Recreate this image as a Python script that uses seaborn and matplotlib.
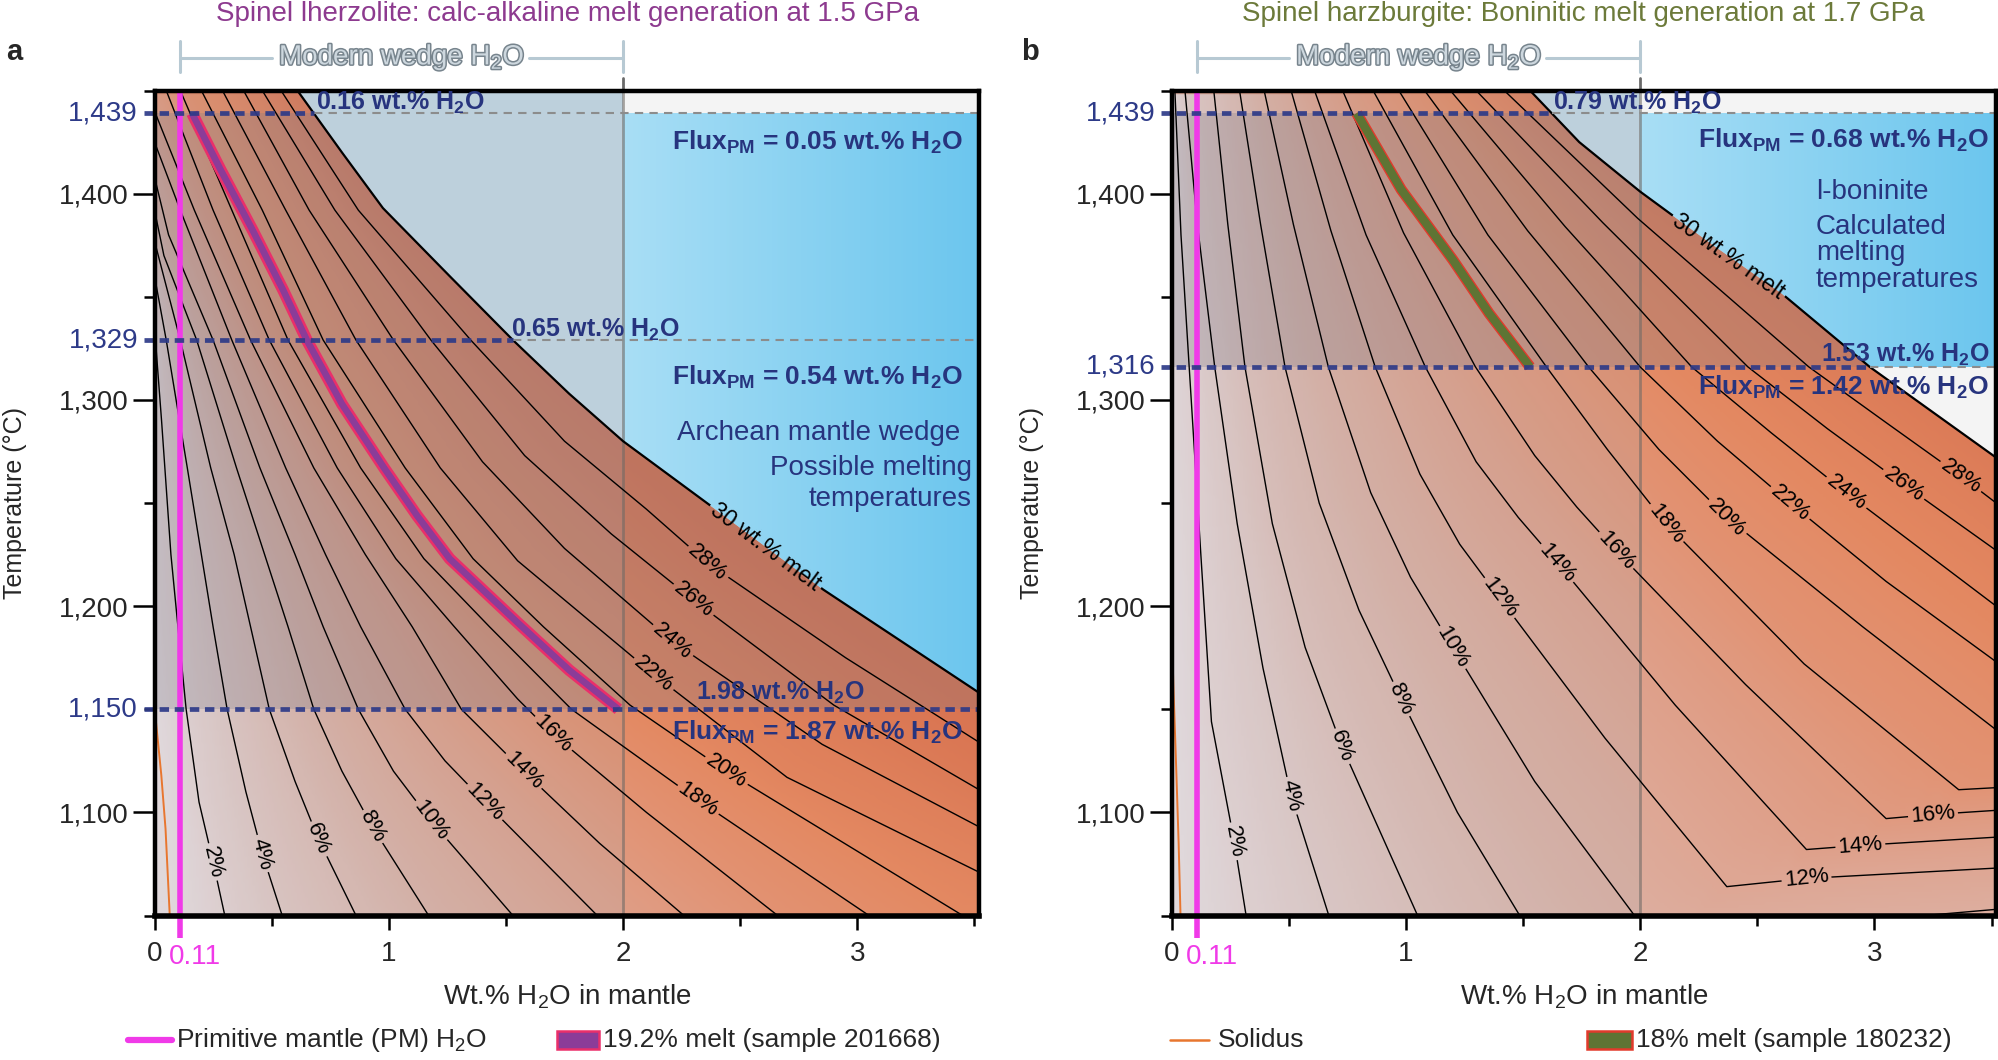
import numpy as np
import pandas as pd
import matplotlib
matplotlib.use("Agg")
import matplotlib.pyplot as plt
import seaborn as sns
import matplotlib.patheffects as pe
import matplotlib.tri as mtri
from matplotlib.colors import to_rgb, LinearSegmentedColormap
from matplotlib.lines import Line2D
from matplotlib.patches import Rectangle
from matplotlib.path import Path
from matplotlib.textpath import TextPath
from matplotlib.font_manager import FontProperties
from matplotlib.transforms import IdentityTransform

# ---------------- values ----------------
LEVELS = [2, 4, 6, 8, 10, 12, 14, 16, 18, 20, 22, 24, 26, 28]
X_MAJOR = [0, 1, 2, 3]
X_MINOR = [0.5, 1.5, 2.5, 3.5]
T_MAJOR = [1100, 1200, 1300, 1400]
T_MAJOR_LABELS = ["1,100", "1,200", "1,300", "1,400"]
T_MINOR = [1050, 1150, 1250, 1350, 1450]
XLIM = (0.0, 3.52)
TLIM = (1050, 1450)
PM_H2O = 0.11
WEDGE_MAX = 2.0

# ---- panel a: spinel lherzolite, 1.5 GPa ----
A_X = [
    [0.00, 0.03, 0.07, 0.10, 0.135, 0.19, 0.25, 0.30],
    [0.00, 0.05, 0.14, 0.20, 0.25, 0.31, 0.39, 0.46, 0.545],
    [0.00, 0.11, 0.24, 0.34, 0.41, 0.49, 0.60, 0.70, 0.86],
    [0.00, 0.04, 0.18, 0.35, 0.47, 0.57, 0.68, 0.80, 0.93, 1.17],
    [0.00, 0.06, 0.25, 0.45, 0.60, 0.72, 0.87, 1.02, 1.18, 1.53],
    [0.00, 0.11, 0.33, 0.56, 0.73, 0.88, 1.07, 1.24, 1.41, 1.89],
    [0.00, 0.17, 0.41, 0.68, 0.90, 1.10, 1.31, 1.575, 1.90, 2.26],
    [0.05, 0.25, 0.49, 0.78, 1.03, 1.28, 1.55, 1.70, 2.10, 2.66],
    [0.11, 0.33, 0.57, 0.88, 1.15, 1.43, 1.78, 2.32, 3.05],
    [0.20, 0.46, 0.72, 1.07, 1.36, 1.66, 2.03, 2.44, 3.45],
    [0.29, 0.56, 0.86, 1.22, 1.55, 2.13, 2.70, 3.52],
    [0.38, 0.66, 1.02, 1.40, 1.75, 2.21, 2.85, 3.52],
    [0.46, 0.77, 1.18, 1.58, 1.95, 2.30, 2.90, 3.52],
    [0.54, 0.87, 1.35, 1.75, 2.10, 2.36, 2.95, 3.52],
]
A_T = [
    [1335, 1290, 1225, 1190, 1150, 1105, 1076, 1050],
    [1360, 1329, 1267, 1225, 1190, 1150, 1110, 1080, 1050],
    [1377, 1329, 1267, 1225, 1190, 1150, 1115, 1087, 1050],
    [1392, 1370, 1329, 1267, 1225, 1190, 1150, 1120, 1093, 1050],
    [1408, 1380, 1329, 1267, 1225, 1190, 1150, 1120, 1096, 1050],
    [1425, 1392, 1329, 1267, 1225, 1190, 1150, 1125, 1105, 1050],
    [1440, 1392, 1329, 1267, 1225, 1190, 1150, 1120, 1085, 1050],
    [1450, 1392, 1329, 1267, 1223, 1190, 1155, 1138, 1100, 1050],
    [1450, 1392, 1329, 1267, 1223, 1190, 1150, 1106, 1050],
    [1450, 1392, 1329, 1267, 1223, 1190, 1152, 1120, 1050],
    [1450, 1392, 1329, 1267, 1222, 1167, 1117, 1071],
    [1450, 1392, 1329, 1270, 1228, 1183, 1133, 1093],
    [1450, 1392, 1329, 1273, 1235, 1203, 1152, 1111],
    [1450, 1392, 1329, 1280, 1247, 1221, 1175, 1134],
]
A_LABEL_X = [0.25, 0.46, 0.70, 0.93, 1.18, 1.41, 1.575, 1.70, 2.32, 2.44, 2.13, 2.21, 2.30, 2.36]
A_LABEL_T = [1076, 1080, 1087, 1093, 1096, 1105, 1120, 1138, 1106, 1120, 1167, 1183, 1203, 1221]
A30_X = [0.61, 0.80, 0.975, 1.26, 1.53, 1.77, 2.00, 2.37, 2.855, 3.52]
A30_T = [1450, 1420, 1393, 1360, 1329, 1303, 1280, 1249, 1208, 1158]
A30_LABEL = (2.61, 1229)
A_MELT_X = [0.16, 0.28, 0.42, 0.55, 0.65, 0.80, 0.98, 1.12, 1.26, 1.55, 1.77, 1.98]
A_MELT_T = [1439, 1412, 1382, 1353, 1329, 1298, 1267, 1244, 1223, 1192, 1169, 1150]
A_SOL_X = [0.0, 0.007, 0.029, 0.047, 0.065]
A_SOL_T = [1150, 1143, 1118, 1092, 1050]
A_CORNER_MELT = [0, 20, 15, 40]          # melt % at BL, BR, TL, TR corners
A_REF_T = [1439, 1329, 1150]
A_REF_LABELS = ["1,439", "1,329", "1,150"]
A_REF_H2O = [0.16, 0.65, 1.98]
A_FLUX = [0.05, 0.54, 1.87]

# ---- panel b: spinel harzburgite, 1.7 GPa ----
B_X = [
    [0.014, 0.04, 0.075, 0.127, 0.17, 0.267, 0.318],
    [0.057, 0.11, 0.184, 0.28, 0.39, 0.51, 0.671],
    [0.18, 0.24, 0.313, 0.43, 0.57, 0.727, 1.05],
    [0.29, 0.38, 0.484, 0.63, 0.80, 0.98, 1.22, 1.486],
    [0.395, 0.52, 0.669, 0.85, 1.02, 1.20, 1.55, 1.976, 2.2, 3.52],
    [0.51, 0.68, 0.869, 1.06, 1.23, 1.40, 1.85, 2.37, 2.71, 3.52],
    [0.61, 0.83, 1.083, 1.30, 1.48, 1.647, 2.15, 2.71, 2.94, 3.52],
    [0.73, 0.99, 1.297, 1.55, 1.73, 1.897, 2.45, 3.05, 3.25, 3.52],
    [0.86, 1.20, 1.60, 1.86, 2.11, 2.70, 3.36, 3.52],
    [0.97, 1.35, 1.78, 2.08, 2.37, 2.95, 3.52],
    [1.08, 1.52, 2.00, 2.33, 2.64, 3.05, 3.52],
    [1.19, 1.68, 2.22, 2.56, 2.88, 3.52],
    [1.30, 1.84, 2.46, 2.80, 3.125, 3.52],
    [1.42, 1.99, 2.72, 3.05, 3.37, 3.52],
]
B_T = [
    [1450, 1380, 1316, 1221, 1144, 1086, 1050],
    [1450, 1385, 1316, 1240, 1170, 1108, 1050],
    [1450, 1385, 1316, 1240, 1180, 1132, 1050],
    [1450, 1385, 1316, 1250, 1198, 1155, 1100, 1050],
    [1450, 1385, 1316, 1255, 1214, 1180, 1115, 1050, 1040, 1053],
    [1450, 1382, 1316, 1264, 1230, 1204, 1136, 1064, 1068, 1073],
    [1450, 1380, 1316, 1270, 1243, 1221, 1152, 1082, 1084, 1088],
    [1450, 1381, 1316, 1273, 1248, 1227, 1162, 1097, 1099, 1101],
    [1450, 1380, 1316, 1276, 1240, 1172, 1111, 1112],
    [1450, 1380, 1316, 1276, 1243, 1190, 1140],
    [1450, 1382, 1316, 1280, 1250, 1212, 1173],
    [1450, 1384, 1316, 1284, 1255, 1200],
    [1450, 1386, 1316, 1286, 1259, 1227],
    [1450, 1388, 1316, 1289, 1263, 1250],
]
B_LABEL_X = [0.267, 0.51, 0.727, 0.98, 1.20, 1.40, 1.647, 1.897, 2.11, 2.37, 2.64, 2.88, 3.125, 3.37]
B_LABEL_T = [1086, 1108, 1132, 1155, 1180, 1204, 1221, 1227, 1240, 1243, 1250, 1255, 1259, 1263]
B_EXTRA_LEVELS = [12, 14, 16]
B_EXTRA_X = [2.71, 2.94, 3.25]
B_EXTRA_T = [1068, 1084, 1099]
B30_X = [1.53, 1.74, 2.00, 2.30, 2.60, 2.98, 3.52]
B30_T = [1450, 1425, 1401, 1376, 1352, 1316, 1272]
B30_LABEL = (2.38, 1370)
B_MELT_X = [0.79, 0.98, 1.20, 1.355, 1.53]
B_MELT_T = [1439, 1402, 1368, 1342, 1316]
B_SOL_X = [0.0, 0.008, 0.02, 0.03, 0.038]
B_SOL_T = [1190, 1160, 1120, 1085, 1050]
B_CORNER_MELT = [0, 10, 1, 40]
B_REF_T = [1439, 1316]
B_REF_LABELS = ["1,439", "1,316"]
B_REF_H2O = [0.79, 1.53]
B_FLUX = [0.68, 1.42]

# ---------------- style ----------------
NAVY = "#2d3a88"
NAVY_TXT = "#27347e"
MAGENTA = "#f03ae8"
DPI = 100
MELT_CMAP = LinearSegmentedColormap.from_list(
    "melt", [(0.0, "#ecdfe0"), (4 / 30, "#e2c6c0"), (8 / 30, "#ddb0a2"),
             (12 / 30, "#dfa08a"), (16 / 30, "#e29272"), (20 / 30, "#e48962"),
             (26 / 30, "#dc7b57"), (1.0, "#d87250")])

sns.set_theme(style="white")
plt.rcParams["font.family"] = ["Liberation Sans", "DejaVu Sans"]
plt.rcParams["mathtext.fontset"] = "custom"
plt.rcParams["mathtext.rm"] = "Liberation Sans"
plt.rcParams["mathtext.it"] = "Liberation Sans:italic"
plt.rcParams["mathtext.bf"] = "Liberation Sans:bold"

fig = plt.figure(figsize=(19.99, 10.60), dpi=DPI)
axA = fig.add_axes([0.0773, 0.1363, 0.4125, 0.7783])
axB = fig.add_axes([0.5861, 0.1363, 0.4125, 0.7783])


def gradient(ax, corners, extent, zorder=0, clip=None):
    bl, br, tl, tr = [np.array(to_rgb(c)) for c in corners]
    n = 48
    u = np.linspace(0, 1, n)[None, :, None]
    v = np.linspace(0, 1, n)[:, None, None]
    img = (1 - v) * ((1 - u) * bl + u * br) + v * ((1 - u) * tl + u * tr)
    im = ax.imshow(img, extent=extent, origin="lower", aspect="auto",
                   interpolation="bilinear", zorder=zorder)
    if clip is not None:
        im.set_clip_path(clip, ax.transData)
    return im


def melt_background(ax, X, T, extra, corner_melt, strength=1.0):
    """Shade the panel by melt fraction, triangulated from the contour lines."""
    px, pt, pf = [], [], []

    def add(xs, ts, lev):
        for i in range(len(xs) - 1):
            for s in np.linspace(0, 1, 8, endpoint=False):
                px.append(xs[i] + s * (xs[i + 1] - xs[i]))
                pt.append(ts[i] + s * (ts[i + 1] - ts[i]))
                pf.append(lev)
        px.append(xs[-1]); pt.append(ts[-1]); pf.append(lev)

    for lev, xs, ts in zip(LEVELS, X, T):
        add(xs, ts, lev)
    for xs, ts, lev in extra:
        add(xs, ts, lev)
    for (cx, ct), f in zip([(XLIM[0], TLIM[0]), (XLIM[1], TLIM[0]),
                            (XLIM[0], TLIM[1]), (XLIM[1], TLIM[1])], corner_melt):
        px.append(cx); pt.append(ct); pf.append(f)
    P = np.round(np.column_stack([px, (np.array(pt) - 1050.0) / 113.0]), 5)
    P, idx = np.unique(P, axis=0, return_index=True)
    F = np.array(pf)[idx]
    tri = mtri.Triangulation(P[:, 0], P[:, 1])
    interp = mtri.LinearTriInterpolator(tri, F)
    gx = np.linspace(XLIM[0], XLIM[1], 320)
    gt = np.linspace(TLIM[0], TLIM[1], 320)
    GX, GT = np.meshgrid(gx, gt)
    Z = np.ma.filled(interp(GX, (GT - 1050.0) / 113.0), np.nan)
    Z = np.where(np.isnan(Z), 30.0, Z)
    img = MELT_CMAP(np.clip(Z * strength / 30.0, 0, 1))[..., :3]
    ax.imshow(img, extent=[XLIM[0], XLIM[1], TLIM[0], TLIM[1]], origin="lower",
              aspect="auto", interpolation="bilinear", zorder=0)


def draw_contours(ax, xs_list, ts_list, levels):
    rows = []
    for lev, xs, ts in zip(levels, xs_list, ts_list):
        for k, (x, t) in enumerate(zip(xs, ts)):
            rows.append({"level": lev, "k": k, "x": x, "T": t})
    df = pd.DataFrame(rows)
    n0 = len(ax.lines)
    sns.lineplot(data=df, x="x", y="T", units="level", estimator=None, sort=False,
                 color="black", linewidth=1.0, ax=ax, legend=False, zorder=3)
    return ax.lines[n0:]


def text_width_px(text, fs):
    tp = TextPath((0, 0), text, size=fs, prop=FontProperties(family="Liberation Sans"))
    return tp.get_extents().width * DPI / 72.0


def line_label(ax, xs, ts, lx, lt, text, holes, fs=16):
    P = ax.transData.transform(np.column_stack([xs, ts]))
    q = ax.transData.transform((lx, lt))
    best = None
    for i in range(len(P) - 1):
        a, b = P[i], P[i + 1]
        d = b - a
        L2 = float(d @ d)
        if L2 == 0:
            continue
        s = np.clip(((q - a) @ d) / L2, 0, 1)
        c = a + s * d
        dist = np.hypot(*(q - c))
        if best is None or dist < best[0]:
            best = (dist, c, d)
    _, c, d = best
    ang = np.degrees(np.arctan2(d[1], d[0]))
    if ang > 90:
        ang -= 180
    if ang < -90:
        ang += 180
    cx, cy = ax.transData.inverted().transform(c)
    ax.text(cx, cy, text, rotation=ang, rotation_mode="anchor", ha="center",
            va="center", fontsize=fs, color="black", zorder=6)
    w = text_width_px(text, fs) + 8
    h = fs * DPI / 72.0 * 0.95
    holes.append((c[0], c[1], w, h, ang))


def apply_clip(ax, artists, holes):
    bb = ax.bbox
    verts = [(bb.x0, bb.y0), (bb.x1, bb.y0), (bb.x1, bb.y1), (bb.x0, bb.y1), (bb.x0, bb.y0)]
    codes = [Path.MOVETO, Path.LINETO, Path.LINETO, Path.LINETO, Path.CLOSEPOLY]
    for cx, cy, w, h, ang in holes:
        t = np.radians(ang)
        ux = np.array([np.cos(t), np.sin(t)])
        uy = np.array([-np.sin(t), np.cos(t)])
        corners = [(-w / 2, -h / 2), (-w / 2, h / 2), (w / 2, h / 2), (w / 2, -h / 2)]
        pts = [np.array([cx, cy]) + a * ux + b * uy for a, b in corners]
        verts += [tuple(p) for p in pts] + [tuple(pts[0])]
        codes += [Path.MOVETO, Path.LINETO, Path.LINETO, Path.LINETO, Path.CLOSEPOLY]
    path = Path(verts, codes)
    for art in artists:
        art.set_clip_path(path, IdentityTransform())


def flux_text(v):
    return r"Flux$_{\mathbf{PM}}$ = " + f"{v:.2f}" + r" wt.% H$_{\mathbf{2}}$O"


def h2o_text(v):
    return f"{v:.2f}" + r" wt.% H$_{\mathbf{2}}$O"


def panel(ax, X, T, lab_x, lab_t, x30, t30, lab30, melt_x, melt_t, sol_x, sol_t,
          corner_melt, band, ref_t, ref_labels, blue_low, white_low, melt_cols,
          extra=None, strength=1.0):
    melt_background(ax, X, T, [(x30, t30, 30), (sol_x, sol_t, 0)], corner_melt, strength)
    ax.axvspan(0, WEDGE_MAX, color="#9fb3c3", alpha=0.15, lw=0, zorder=1.0)
    ax.axhspan(band[0], band[1], color="#7a7a8a", alpha=0.26, lw=0, zorder=1.1)
    # region above 30 % melt
    poly = ax.fill_between(x30, t30, TLIM[1] + 10, color="#bdd0dc", lw=0, zorder=1.6)
    clip = poly.get_paths()[0]
    gradient(ax, ["#a8def5", "#6cc6ee", "#a8def5", "#6cc6ee"],
             [WEDGE_MAX, XLIM[1], blue_low, ref_t[0]], zorder=1.7, clip=clip)
    wtop = Rectangle((WEDGE_MAX, ref_t[0]), XLIM[1] - WEDGE_MAX, 20, color="#f4f4f4",
                     lw=0, zorder=1.8)
    ax.add_patch(wtop)
    if white_low is not None:
        wl = Rectangle((WEDGE_MAX, TLIM[0]), XLIM[1] - WEDGE_MAX, white_low - TLIM[0],
                       color="#f4f4f4", lw=0, zorder=1.8)
        ax.add_patch(wl)
        wl.set_clip_path(clip, ax.transData)

    # x = 2 (upper end of modern wedge H2O)
    ax.plot([WEDGE_MAX, WEDGE_MAX], [TLIM[0], TLIM[1]], color="#6f6a66", alpha=0.6,
            lw=2, zorder=2.5)
    ax.plot([WEDGE_MAX, WEDGE_MAX], [TLIM[1], 1456], color="#6a6a6a", lw=2,
            zorder=2.5, clip_on=False)

    lines = draw_contours(ax, X, T, LEVELS)
    l30 = ax.plot(x30, t30, color="black", lw=1.6, zorder=3.2)[0]
    ax.plot(sol_x, sol_t, color="#e8762f", lw=1.4, zorder=3.5)
    ax.set_xlabel("")
    ax.set_ylabel("")

    ax.set_xlim(*XLIM)
    ax.set_ylim(*TLIM)

    # contour labels with gaps in the lines
    holes = []
    for lev, xs, ts, lx, lt in zip(LEVELS, X, T, lab_x, lab_t):
        line_label(ax, xs, ts, lx, lt, f"{lev}%", holes)
    if extra is not None:
        for lev, lx, lt in zip(*extra):
            i = LEVELS.index(lev)
            line_label(ax, X[i], T[i], lx, lt, f"{lev}%", holes)
    line_label(ax, x30, t30, lab30[0], lab30[1], "30 wt.% melt", holes, fs=16.5)
    apply_clip(ax, list(lines) + [l30], holes)

    # melt line of the sample
    ax.plot(melt_x, melt_t, color=melt_cols[1], lw=melt_cols[2], zorder=4,
            solid_capstyle="butt", solid_joinstyle="round")
    ax.plot(melt_x, melt_t, color=melt_cols[0], lw=melt_cols[3], zorder=4.1,
            solid_capstyle="butt", solid_joinstyle="round")

    # primitive mantle H2O
    ax.plot([PM_H2O, PM_H2O], [1039, TLIM[1]], color=MAGENTA, lw=4, zorder=4.5,
            clip_on=False, solid_capstyle="butt")

    # reference temperatures
    t30r = np.array(t30)[::-1]
    x30r = np.array(x30)[::-1]
    for tr, lab in zip(ref_t, ref_labels):
        xe = float(np.interp(tr, t30r, x30r))
        ax.plot([-0.045, xe], [tr, tr], color=NAVY, lw=3.4, linestyle=(0, (2.0, 1.2)),
                clip_on=False, zorder=4.6, alpha=0.92)
        if xe < XLIM[1] - 0.01:
            ax.plot([xe, XLIM[1]], [tr, tr], color="#8c8c8c", lw=1.5,
                    linestyle=(0, (4, 3)), zorder=4.4)
        ax.text(-0.07, tr, lab, ha="right", va="center", fontsize=20, color=NAVY)

    # axes styling
    ax.set_xticks(X_MAJOR)
    ax.set_xticklabels([str(v) for v in X_MAJOR])
    ax.set_xticks(X_MINOR, minor=True)
    ax.set_yticks(T_MAJOR)
    ax.set_yticklabels(T_MAJOR_LABELS)
    ax.set_yticks(T_MINOR, minor=True)
    ax.tick_params(which="both", bottom=True, left=True, top=False, right=False,
                   direction="out", width=1.8, color="black")
    ax.tick_params(axis="y", which="major", length=16, pad=2.5, labelsize=20)
    ax.tick_params(axis="y", which="minor", length=8)
    ax.tick_params(axis="x", which="major", length=10, pad=8, labelsize=20)
    ax.tick_params(axis="x", which="minor", length=7)
    for s in ax.spines.values():
        s.set_color("black")
        s.set_linewidth(3.2)
        s.set_zorder(7)
    ax.spines["bottom"].set_linewidth(4)
    ax.text(0.062, -0.034, "0.11", transform=ax.get_xaxis_transform(), ha="left",
            va="top", fontsize=20, color=MAGENTA)
    ax.text(0.5, -0.098, r"Wt.% H$_2$O in mantle", transform=ax.transAxes,
            ha="center", va="center", fontsize=20)
    ax.text(-0.169, 0.5, "Temperature (°C)", transform=ax.transAxes, rotation=90,
            ha="center", va="center", fontsize=18)

    # modern wedge bracket
    ax.plot([PM_H2O, 0.50], [1466, 1466], color="#b7c9d3", lw=2.2, clip_on=False)
    ax.plot([1.60, WEDGE_MAX], [1466, 1466], color="#b7c9d3", lw=2.2, clip_on=False)
    for xb in (PM_H2O, WEDGE_MAX):
        ax.plot([xb, xb], [1459, 1474], color="#b7c9d3", lw=2.2, clip_on=False)
    ax.text(1.055, 1466, r"Modern wedge H$_2$O", ha="center", va="center", fontsize=20,
            color="#cdd7de",
            path_effects=[pe.withStroke(linewidth=2.2, foreground="#77848d")])


# ---------------- panel a ----------------
panel(axA, A_X, A_T, A_LABEL_X, A_LABEL_T, A30_X, A30_T, A30_LABEL,
      A_MELT_X, A_MELT_T, A_SOL_X, A_SOL_T, A_CORNER_MELT, (1150, 1439),
      A_REF_T, A_REF_LABELS, 1150, None, ("#8b3c98", "#ea2f6a", 8.5, 4.8))
bold = dict(color=NAVY_TXT, fontweight="bold", zorder=8)
axA.text(0.69, 1444, h2o_text(A_REF_H2O[0]), ha="left", va="center", fontsize=18, **bold)
axA.text(3.45, 1425, flux_text(A_FLUX[0]), ha="right", va="center", fontsize=19, **bold)
axA.text(1.52, 1334, h2o_text(A_REF_H2O[1]), ha="left", va="center", fontsize=18, **bold)
axA.text(3.45, 1311, flux_text(A_FLUX[1]), ha="right", va="center", fontsize=19, **bold)
axA.text(2.31, 1158, h2o_text(A_REF_H2O[2]), ha="left", va="center", fontsize=18, **bold)
axA.text(3.45, 1139, flux_text(A_FLUX[2]), ha="right", va="center", fontsize=19, **bold)
axA.text(3.44, 1284, "Archean mantle wedge", ha="right", va="center", fontsize=20,
         color=NAVY_TXT, zorder=8)
axA.text(3.49, 1267, "Possible melting", ha="right", va="center", fontsize=20,
         color=NAVY_TXT, zorder=8)
axA.text(3.49, 1252, "temperatures", ha="right", va="center", fontsize=20,
         color=NAVY_TXT, zorder=8)

# ---------------- panel b ----------------
panel(axB, B_X, B_T, B_LABEL_X, B_LABEL_T, B30_X, B30_T, B30_LABEL,
      B_MELT_X, B_MELT_T, B_SOL_X, B_SOL_T, B_CORNER_MELT, (1316, 1439),
      B_REF_T, B_REF_LABELS, 1316, 1316, ("#5e7434", "#e23a2c", 8.0, 6.0),
      extra=(B_EXTRA_LEVELS, B_EXTRA_X, B_EXTRA_T), strength=0.86)
axB.text(1.63, 1444, h2o_text(B_REF_H2O[0]), ha="left", va="center", fontsize=18, **bold)
axB.text(3.49, 1426, flux_text(B_FLUX[0]), ha="right", va="center", fontsize=19, **bold)
axB.text(3.49, 1322, h2o_text(B_REF_H2O[1]), ha="right", va="center", fontsize=18, **bold)
axB.text(3.49, 1306, flux_text(B_FLUX[1]), ha="right", va="center", fontsize=19, **bold)
for txt, tt in zip(["l-boninite", "Calculated", "melting", "temperatures"],
                   [1401, 1384, 1371, 1358]):
    axB.text(2.75, tt, txt, ha="left", va="center", fontsize=20, color=NAVY_TXT, zorder=8)

# ---------------- titles, panel letters, legends ----------------
fig.text(0.284, 0.987, "Spinel lherzolite: calc-alkaline melt generation at 1.5 GPa",
         ha="center", va="center", fontsize=20, color="#8d3a8f")
fig.text(0.792, 0.987, "Spinel harzburgite: Boninitic melt generation at 1.7 GPa",
         ha="center", va="center", fontsize=20, color="#6c7a3a")
fig.text(0.003, 0.951, "a", ha="left", va="center", fontsize=21, fontweight="bold")
fig.text(0.511, 0.951, "b", ha="left", va="center", fontsize=21, fontweight="bold")

ly = 1 - 1040 / 1060
W = 1999.0
H = 1060.0
fig.add_artist(Line2D([128 / W, 172 / W], [ly, ly], color=MAGENTA, lw=4.5,
                      transform=fig.transFigure))
fig.text(176 / W, ly, r"Primitive mantle (PM) H$_2$O", ha="left", va="center", fontsize=19)
fig.add_artist(Rectangle((557 / W, ly - 9 / H), 42 / W, 18 / H, facecolor="#8b3c98",
                         edgecolor="#ea2f6a", lw=1.8, transform=fig.transFigure))
fig.text(603 / W, ly, "19.2% melt (sample 201668)", ha="left", va="center", fontsize=19)
fig.add_artist(Line2D([1170 / W, 1209 / W], [ly, ly], color="#e8762f", lw=1.8,
                      transform=fig.transFigure))
fig.text(1218 / W, ly, "Solidus", ha="left", va="center", fontsize=19)
fig.add_artist(Rectangle((1587 / W, ly - 9 / H), 45 / W, 18 / H, facecolor="#5e7434",
                         edgecolor="#e23a2c", lw=1.8, transform=fig.transFigure))
fig.text(1636 / W, ly, "18% melt (sample 180232)", ha="left", va="center", fontsize=19)

fig.savefig("out.png", dpi=DPI)
